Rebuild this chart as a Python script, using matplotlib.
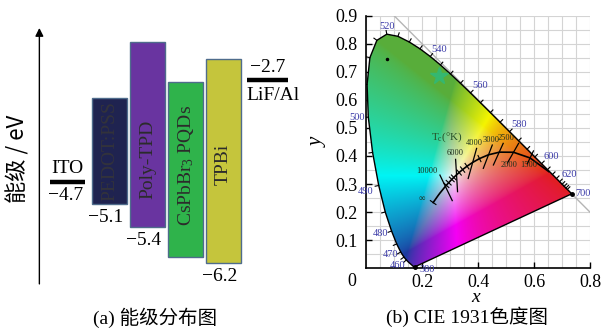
import numpy as np
import matplotlib
matplotlib.use('Agg')
import matplotlib.pyplot as plt
from matplotlib.path import Path
from matplotlib.patches import PathPatch
from matplotlib.ticker import MultipleLocator

SERIF = ['Liberation Serif', 'Noto Sans CJK SC']
plt.rcParams['font.family'] = SERIF
plt.rcParams['mathtext.fontset'] = 'custom'
plt.rcParams['mathtext.rm'] = 'Liberation Serif'
plt.rcParams['mathtext.it'] = 'Liberation Serif:italic'

# ---- (a) energy levels (schematic positions as drawn, in eV) ----
band_names = ['PEDOT:PSS', 'Poly-TPD', r'CsPbBr$_\mathrm{3}$ PQDs', 'TPBi']
band_top = [-3.13, -2.09, -2.84, -2.41]
band_bottom = [-5.11, -5.53, -6.10, -6.20]
band_colors = ['#1f2350', '#6934a0', '#2fb34b', '#c5c53c']
bottom_labels = ['\u22125.1', '\u22125.4', '', '\u22126.2']
ito_level = -4.70
ito_label = '\u22124.7'
lif_level = -2.80
lif_label = '\u22122.7'

# ---- (b) CIE 1931 spectral locus, 380-700 nm step 5 ----
wl = np.arange(380, 705, 5)
cie_x = [0.1741, 0.1740, 0.1738, 0.1736, 0.1733, 0.1730, 0.1726, 0.1721, 0.1714, 0.1703,
         0.1689, 0.1669, 0.1644, 0.1611, 0.1566, 0.1510, 0.1440, 0.1355, 0.1241, 0.1096,
         0.0913, 0.0687, 0.0454, 0.0235, 0.0082, 0.0039, 0.0139, 0.0389, 0.0743, 0.1142,
         0.1547, 0.1929, 0.2296, 0.2658, 0.3016, 0.3373, 0.3731, 0.4087, 0.4441, 0.4788,
         0.5125, 0.5448, 0.5752, 0.6029, 0.6270, 0.6482, 0.6658, 0.6801, 0.6915, 0.7006,
         0.7079, 0.7140, 0.7190, 0.7230, 0.7260, 0.7283, 0.7300, 0.7311, 0.7320, 0.7327,
         0.7334, 0.7340, 0.7344, 0.7346, 0.7347]
cie_y = [0.0050, 0.0050, 0.0049, 0.0049, 0.0048, 0.0048, 0.0048, 0.0048, 0.0051, 0.0058,
         0.0069, 0.0086, 0.0109, 0.0138, 0.0177, 0.0227, 0.0297, 0.0399, 0.0578, 0.0868,
         0.1327, 0.2007, 0.2950, 0.4127, 0.5384, 0.6548, 0.7502, 0.8120, 0.8338, 0.8262,
         0.8059, 0.7816, 0.7543, 0.7243, 0.6923, 0.6589, 0.6245, 0.5896, 0.5547, 0.5202,
         0.4866, 0.4544, 0.4242, 0.3965, 0.3725, 0.3514, 0.3340, 0.3197, 0.3083, 0.2993,
         0.2920, 0.2859, 0.2809, 0.2770, 0.2740, 0.2717, 0.2700, 0.2689, 0.2680, 0.2673,
         0.2666, 0.2660, 0.2656, 0.2654, 0.2653]
wl_labels = [380, 460, 470, 480, 490, 500, 520, 540, 560, 580, 600, 620, 700]

# Planckian locus
planck_T = [1000, 1500, 2000, 2500, 3000, 3500, 4000, 4500, 5000, 5500, 6000, 6500,
            7000, 8000, 9000, 10000, 15000, 20000, np.inf]
planck_x = [0.6528, 0.5857, 0.5267, 0.4770, 0.4369, 0.4053, 0.3805, 0.3608, 0.3451, 0.3325,
            0.3221, 0.3135, 0.3064, 0.2952, 0.2869, 0.2807, 0.2637, 0.2565, 0.2399]
planck_y = [0.3444, 0.3931, 0.4133, 0.4137, 0.4041, 0.3907, 0.3768, 0.3636, 0.3516, 0.3411,
            0.3318, 0.3236, 0.3166, 0.3048, 0.2956, 0.2884, 0.2674, 0.2577, 0.2341]
small_tick_T = [3500, 4500, 5000, 5500, 6500, 7000, 8000, 9000]

# isotherm lines
iso_labels = ['10000', '6000', '4000', '3000', '2500', '2000', '1500']
iso_x0 = [0.264, 0.320, 0.395, 0.451, 0.490, 0.545, 0.598]
iso_y0 = [0.332, 0.388, 0.427, 0.439, 0.445, 0.445, 0.418]
iso_x1 = [0.308, 0.327, 0.365, 0.419, 0.455, 0.505, 0.576]
iso_y1 = [0.241, 0.273, 0.320, 0.356, 0.368, 0.375, 0.372]
iso_lab_x = [0.217, 0.318, 0.387, 0.446, 0.499, 0.511, 0.580]
iso_lab_y = [0.346, 0.411, 0.445, 0.457, 0.463, 0.368, 0.368]

star_x, star_y = 0.262, 0.684
dot_x, dot_y = 0.076, 0.745

fig = plt.figure(figsize=(6.04, 3.29), dpi=100)

# ================= (a) =================
ax1 = fig.add_axes([0, 0, 310 / 604, 1])
ax1.set_xlim(-1.889, 6.278)
ax1.set_ylim(-7.432, -1.317)
ax1.axis('off')

idx = np.arange(1, len(band_names) + 1)
heights = np.array(band_top) - np.array(band_bottom)
ax1.bar(idx, heights, bottom=band_bottom, width=0.92, color=band_colors,
        edgecolor='#4f6c8c', linewidth=1.0)

text_shift = [0.0, -0.46, 0.07, -0.07]
for i, name in enumerate(band_names):
    mid = (band_top[i] + band_bottom[i]) / 2 + text_shift[i]
    ax1.text(idx[i], mid, name, rotation=90, ha='center', va='center',
             fontsize=14, color='#2b2b2b' if i else '#33333b')
    if bottom_labels[i]:
        ax1.annotate(bottom_labels[i], (idx[i], band_bottom[i]), xytext=(-3, -10),
                     textcoords='offset points', ha='center', va='center', fontsize=14)

ito_x = 0 - 0.11
lif_x = 5 + 0.16
ax1.hlines(ito_level, ito_x - 0.46, ito_x + 0.46, color='black', lw=3.2)
ax1.hlines(lif_level, lif_x - 0.54, lif_x + 0.54, color='black', lw=3.2)
ax1.annotate('ITO', (ito_x, ito_level), xytext=(0, 10), textcoords='offset points',
             ha='center', va='center', fontsize=14)
ax1.annotate(ito_label, (ito_x, ito_level), xytext=(-1.5, -9.5), textcoords='offset points',
             ha='center', va='center', fontsize=14)
ax1.annotate(lif_label, (lif_x, lif_level), xytext=(0, 9), textcoords='offset points',
             ha='center', va='center', fontsize=14)
ax1.annotate('LiF/Al', (lif_x, lif_level), xytext=(4, -11), textcoords='offset points',
             ha='center', va='center', fontsize=14)

ax1.annotate('', xy=(0.127, 0.915), xytext=(0.127, 0.137), xycoords='axes fraction',
             arrowprops=dict(arrowstyle='-|>', color='black', lw=1.0, mutation_scale=12,
                             shrinkA=0, shrinkB=0))
fig.text(0.030, 0.518, '能级 / eV', rotation=90, ha='center', va='center',
         family=['Noto Sans CJK SC', 'DejaVu Sans'], fontsize=16)

# ================= (b) =================
ax2 = fig.add_axes([366 / 604, 60.7 / 329, 224 / 604, 252.7 / 329])
ax2.set_xlim(0, 0.8)
ax2.set_ylim(0, 0.9)

gx = np.linspace(0, 0.8, 480)
gy = np.linspace(0, 0.9, 540)
X, Y = np.meshgrid(gx, gy)
Yc = np.maximum(Y, 1e-3)
XX = X / Yc
ZZ = (1 - X - Y) / Yc
R = 3.2406 * XX - 1.5372 - 0.4986 * ZZ
G = -0.9689 * XX + 1.8758 + 0.0415 * ZZ
B = 0.0557 * XX - 0.2040 + 1.0570 * ZZ
rgb = np.clip(np.dstack([R, G, B]), 0, None)
rgb = rgb / (rgb.max(axis=2, keepdims=True) + 1e-9)
rgb = rgb ** (1 / 1.5)
# tone the pure primaries down towards the printed look of the reference
r, g, b = rgb[..., 0], rgb[..., 1], rgb[..., 2]
dg = np.clip(g - np.maximum(r, b), 0, 1)
dr = np.clip(r - np.maximum(g, b), 0, 1)
db = np.clip(b - np.maximum(r, g), 0, 1)
r2 = r + 0.36 * dg - 0.08 * dr + 0.12 * db
g2 = g - 0.29 * dg + 0.12 * dr + 0.24 * db
b2 = b + 0.24 * dg + 0.15 * dr - 0.35 * db
rgb = np.clip(np.dstack([r2, g2, b2]) * 0.96, 0, 1)

im = ax2.imshow(rgb, origin='lower', extent=(0, 0.8, 0, 0.9), aspect='auto',
                interpolation='bilinear', zorder=1)
locus = Path(np.column_stack([cie_x, cie_y]))
clip = PathPatch(locus, transform=ax2.transData, facecolor='none', edgecolor='none')
ax2.add_patch(clip)
im.set_clip_path(clip)
ax2.fill(cie_x, cie_y, facecolor='none', edgecolor='black', lw=1.0, zorder=3)

# x + y = 1 line
ax2.plot([0.1, 0.8], [0.9, 0.2], color='#b5b5b5', lw=1.0, zorder=0.8)

# wavelength ticks along locus
px = np.array(cie_x)
py = np.array(cie_y)
for k in range(len(wl)):
    if wl[k] < 460 or wl[k] > 640:
        continue
    tx = px[k + 1] - px[k - 1]
    ty = py[k + 1] - py[k - 1]
    n = np.hypot(tx, ty)
    nx, ny = ty / n, -tx / n
    if nx * (px[k] - 0.33) + ny * (py[k] - 0.33) < 0:
        nx, ny = -nx, -ny
    ax2.plot([px[k], px[k] + 0.013 * nx], [py[k], py[k] + 0.013 * ny],
             color='black', lw=0.8, zorder=3)

lab_off = {380: (0.043, -0.010), 460: (-0.032, -0.018), 470: (-0.038, -0.008),
           480: (-0.039, -0.008), 490: (-0.048, -0.022), 500: (-0.041, 0.0),
           520: (0.0, 0.028), 540: (0.032, 0.025), 560: (0.034, 0.028),
           580: (0.034, 0.024), 600: (0.033, 0.025), 620: (0.035, 0.026),
           700: (0.041, 0.0)}
for w in wl_labels:
    k = list(wl).index(w)
    dx, dy = lab_off[w]
    ax2.text(px[k] + dx, py[k] + dy, str(w), color='#3b3ba8', fontsize=7.5,
             ha='center', va='center', zorder=4, clip_on=False)
ax2.plot([cie_x[0], cie_x[-1]], [cie_y[0], cie_y[-1]], 'o', color='black', ms=2.5, zorder=4,
         clip_on=False)

# Planckian locus with isotherms
ax2.plot(planck_x, planck_y, color='black', lw=1.2, zorder=5)
for T in small_tick_T:
    k = planck_T.index(T)
    tx = planck_x[k + 1] - planck_x[k - 1]
    ty = planck_y[k + 1] - planck_y[k - 1]
    n = np.hypot(tx, ty)
    nx, ny = -ty / n, tx / n
    ax2.plot([planck_x[k] - 0.012 * nx, planck_x[k] + 0.012 * nx],
             [planck_y[k] - 0.012 * ny, planck_y[k] + 0.012 * ny], color='black', lw=0.8, zorder=5)
tx = planck_x[-1] - planck_x[-2]
ty = planck_y[-1] - planck_y[-2]
n = np.hypot(tx, ty)
ax2.plot([planck_x[-1] - 0.012 * ty / n, planck_x[-1] + 0.012 * ty / n],
         [planck_y[-1] + 0.012 * tx / n, planck_y[-1] - 0.012 * tx / n], color='black', lw=0.8,
         zorder=5)
for i, lab in enumerate(iso_labels):
    ax2.plot([iso_x0[i], iso_x1[i]], [iso_y0[i], iso_y1[i]], color='black', lw=0.9, zorder=5)
    ax2.text(iso_lab_x[i], iso_lab_y[i], lab, fontsize=6, color='#1d2e1d', ha='center',
             va='center', zorder=6)
ax2.text(0.199, 0.246, '\u221e', fontsize=6.5, color='#1d2e1d', ha='center', va='center', zorder=6)
ax2.text(0.288, 0.468, r'T$_\mathrm{c}$(°K)', fontsize=8, color='#265026', ha='center',
         va='center', zorder=6)

ax2.plot(star_x, star_y, marker='*', ms=13, color='#34b870', zorder=6)
ax2.plot(dot_x, dot_y, marker='o', ms=1.5, color='black', zorder=6)

# axes styling
ax2.set_xticks([0.2, 0.4, 0.6, 0.8])
ax2.set_xticklabels(['0.2', '0.4', '0.6', '0.8'])
ax2.set_yticks(np.arange(1, 10) / 10)
ax2.set_yticklabels(['0.1', '0.2', '0.3', '0.4', '0.5', '0.6', '0.7', '0.8', '0.9'])
ax2.xaxis.set_minor_locator(MultipleLocator(0.05))
ax2.yaxis.set_minor_locator(MultipleLocator(0.05))
ax2.grid(which='both', color='#d4d4d4', lw=0.8)
ax2.set_axisbelow(True)
ax2.tick_params(which='major', direction='in', length=4, width=1, labelsize=13, pad=4)
ax2.tick_params(which='minor', length=0)
ax2.tick_params(axis='y', pad=6)
for s in ['top', 'right']:
    ax2.spines[s].set_visible(False)
for s in ['left', 'bottom']:
    ax2.spines[s].set_linewidth(1.2)
fig.text(352 / 604, 1 - 281 / 329, '0', fontsize=13, ha='center', va='center')
fig.text(476 / 604, 1 - 298 / 329, 'x', fontsize=14, style='italic', ha='center', va='center')
fig.text(318 / 604, 1 - 142 / 329, 'y', fontsize=15, style='italic', rotation=90,
         ha='center', va='center')

# captions
fig.text(155 / 604, 1 - 318 / 329, '(a) 能级分布图', fontsize=14, ha='center', va='center',
         family=SERIF)
fig.text(467 / 604, 1 - 317 / 329, '(b) CIE 1931色度图', fontsize=14, ha='center', va='center',
         family=SERIF)

fig.savefig('out.png', dpi=100)
